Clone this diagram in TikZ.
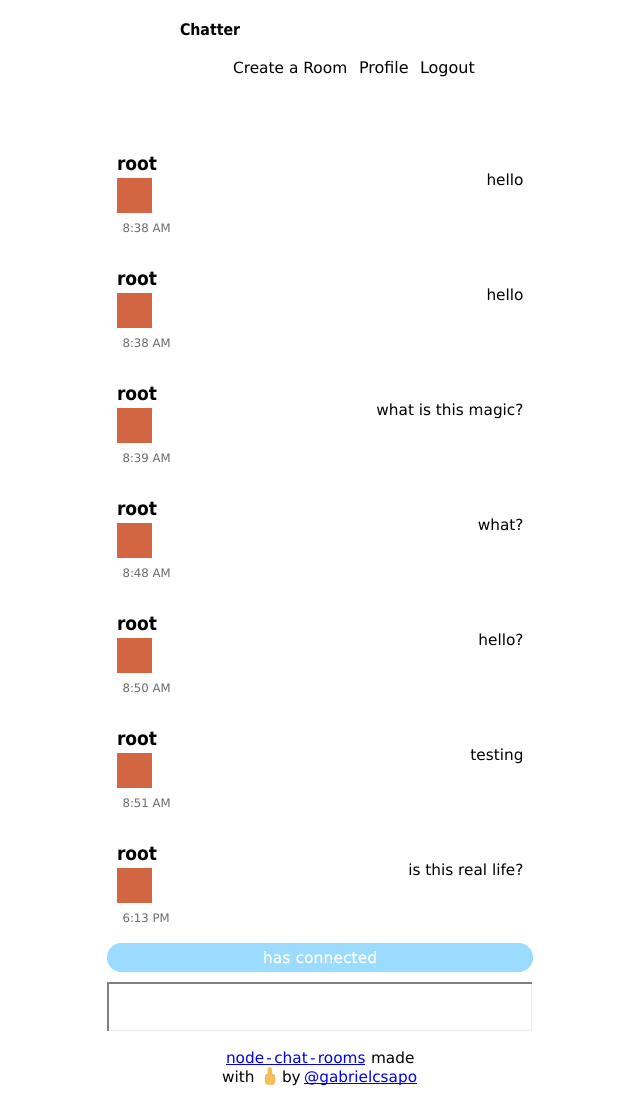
\documentclass[tikz,border=0pt]{standalone}
\usepackage{fontspec}
\usetikzlibrary{calc}
\setmainfont{DejaVu Sans}
\newfontfamily\emojifont{Noto Emoji}
\newfontfamily\boldnarrow[FakeStretch=0.9]{DejaVu Sans Bold}
\newfontfamily\titlenarrow[FakeStretch=0.885]{DejaVu Sans Bold}
\newfontfamily\semibold[FakeBold=0.6]{DejaVu Sans}
\definecolor{avatar}{HTML}{D26643}
\definecolor{bar}{HTML}{9BDBFF}
\definecolor{timec}{HTML}{6B6B6B}
\definecolor{linkc}{HTML}{0000EE}
\definecolor{emojic}{HTML}{F5C158}
\definecolor{emojid}{HTML}{F0B548}
\tikzset{
  x=1pt,y=-1pt,
  txt/.style={inner sep=0pt,outer sep=0pt,font=\fontsize{15.3}{15}\selectfont,text=black},
  navtxt/.style={txt,font=\fontsize{16}{16}\selectfont},
  title/.style={txt,font=\fontsize{16}{16}\selectfont\titlenarrow},
  who/.style={txt,font=\fontsize{19}{19}\selectfont\boldnarrow},
  stamp/.style={txt,font=\fontsize{11.7}{12}\selectfont,text=timec},
  link/.style={txt,text=linkc},
}
\begin{document}
\begin{tikzpicture}
\useasboundingbox[fill=white] (0,0) rectangle (640,1108);
\node[title,anchor=base west] (brand) at (180,35.4) {Chatter};
\node[txt,anchor=base west,font=\fontsize{15.4}{15}\selectfont] (nav1) at (233,74) {Create a Room};
\node[navtxt,anchor=base west] (nav2) at (359,74) {Profile};
\node[navtxt,anchor=base west] (nav3) at (420,74) {Logout};
\foreach \i/\t/\m in {0/8:38 AM/hello,1/8:38 AM/hello,2/8:39 AM/what is this magic?,3/8:48 AM/what?,4/8:50 AM/hello?,5/8:51 AM/testing,6/6:13 PM/is this real life?}{
  \pgfmathsetmacro{\yy}{115*\i}
  \node[who,anchor=base west] (u\i) at (117,170+\yy) {root};
  \fill[avatar] (117,178+\yy) rectangle (152,213+\yy);
  \node[stamp,anchor=base west] (t\i) at (122.6,232+\yy) {\t};
  \node[txt,anchor=base east] (m\i) at (523.5,185+\yy) {\m};
}
\fill[bar,rounded corners=14.5pt] (107,943) rectangle (533,972);
\node[txt,anchor=base,text=white,font=\fontsize{15.6}{16}\selectfont\semibold] (status) at (320,963) {has connected};
\fill[white] (108,983) rectangle (532,1030);
\draw[color=black!8,line width=1pt] (531.5,983) -- (531.5,1030.5) -- (107.5,1030.5);
\draw[color=black!50,line width=1.8pt] (108,1030.5) -- (108,983.2) -- (532,983.2);
\node[link,anchor=base west] (l1) at (226,1063) {node\kern2.3pt-\kern2.3pt chat\kern2.3pt-\kern2.3pt rooms};
\node[txt,anchor=base west] (made) at (371,1063) {made};
\node[txt,anchor=base west] (with) at (222,1082) {with};
\fill[emojic,rounded corners=2pt] (265,1074) rectangle (275,1084.5);
\fill[emojic,rounded corners=1.5pt] (267.5,1067) rectangle (272,1076);
\node[txt,anchor=base,text=emojid,font=\fontsize{14.5}{15}\selectfont\emojifont] (em) at (270,1082.5) {\symbol{"1F595}};
\node[txt,anchor=base west] (by) at (282,1082) {by};
\node[link,anchor=base west] (l2) at (304,1082) {@gabrielcsapo};
\draw[linkc,line width=1pt] ($(l1.base west)+(0,1.6)$) -- ($(l1.base east)+(0,1.6)$);
\draw[linkc,line width=1pt] ($(l2.base west)+(0,1.6)$) -- ($(l2.base east)+(0,1.6)$);
\end{tikzpicture}
\end{document}
